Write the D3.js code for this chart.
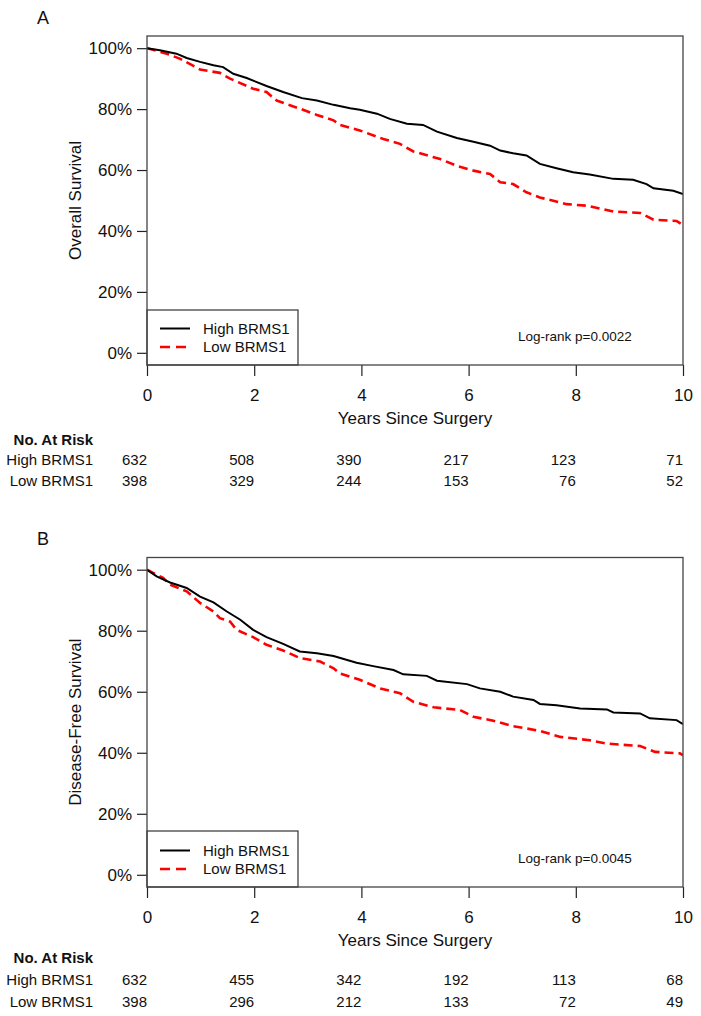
<!DOCTYPE html>
<html>
<head>
<meta charset="utf-8">
<script src="https://cdn.jsdelivr.net/npm/d3@7"></script>
<style>
  html, body { margin: 0; padding: 0; background: #fff; }
  svg { display: block; font-family: Arial, "Liberation Sans", sans-serif; }
</style>
</head>
<body>
<svg id="chart" width="701" height="1016"></svg>
<script>
// ---------- Data ----------
const seriesNames = ["High BRMS1", "Low BRMS1"];
const xTicks = [0, 2, 4, 6, 8, 10];
const yTicks = [0, 0.2, 0.4, 0.6, 0.8, 1.0];

// Panel A: Overall survival  [years, survival %]
const osHigh = [[0,100],[0.24,99.3],[0.55,98.2],[0.74,96.8],[0.99,95.5],[1.24,94.4],[1.42,93.8],[1.61,91.6],[1.86,90.2],[2.23,87.6],[2.54,85.6],[2.89,83.6],[3.17,82.8],[3.48,81.4],[3.79,80.3],[3.97,79.8],[4.29,78.5],[4.53,76.8],[4.85,75.2],[5.15,74.8],[5.41,72.6],[5.78,70.5],[6.09,69.3],[6.40,68.0],[6.59,66.4],[6.83,65.5],[7.08,64.8],[7.33,62.0],[7.64,60.6],[7.95,59.3],[8.26,58.5],[8.70,57.1],[9.07,56.8],[9.32,55.4],[9.45,54.0],[9.82,53.2],[10,52.1]];
const osLow = [[0,100],[0.37,98.2],[0.62,96.5],[0.99,93.0],[1.36,91.9],[1.55,90.0],[1.98,86.7],[2.23,85.6],[2.42,82.8],[2.86,80.1],[3.17,78.1],[3.48,76.3],[3.60,74.8],[3.97,73.0],[4.41,70.2],[4.72,68.6],[4.97,66.1],[5.47,63.6],[5.78,61.4],[6.09,59.8],[6.40,58.7],[6.59,56.0],[6.83,55.4],[7.08,52.7],[7.33,51.0],[7.83,48.8],[8.20,48.3],[8.70,46.4],[9.20,45.9],[9.45,43.7],[9.88,43.3],[10,41.9]];
const osRiskHigh = [632, 508, 390, 217, 123, 71];
const osRiskLow = [398, 329, 244, 153, 76, 52];

// Panel B: Disease-free survival  [years, survival %]
const dfsHigh = [[0,100],[0.18,97.8],[0.43,95.8],[0.74,94.0],[0.99,91.2],[1.24,89.3],[1.49,86.3],[1.74,83.6],[1.98,80.3],[2.23,77.9],[2.54,75.7],[2.85,73.2],[3.17,72.6],[3.48,71.7],[3.91,69.5],[4.22,68.4],[4.60,67.1],[4.78,65.7],[5.22,65.2],[5.41,63.6],[5.97,62.5],[6.21,61.1],[6.59,60.0],[6.83,58.4],[7.21,57.3],[7.33,56.0],[7.64,55.6],[8.08,54.5],[8.58,54.2],[8.70,53.2],[9.20,52.9],[9.38,51.3],[9.88,50.7],[10,49.4]];
const dfsLow = [[0,100],[0.30,97.3],[0.43,95.1],[0.74,92.9],[0.99,89.1],[1.24,86.3],[1.36,84.1],[1.55,83.0],[1.67,80.3],[1.98,77.9],[2.23,75.4],[2.54,73.5],[2.86,71.0],[3.23,69.9],[3.48,67.7],[3.60,66.0],[3.97,63.9],[4.35,61.1],[4.72,59.5],[4.97,56.7],[5.35,54.9],[5.84,54.0],[6.09,51.8],[6.46,50.5],[6.83,48.7],[7.33,47.2],[7.71,45.2],[8.26,44.1],[8.58,43.0],[9.20,42.2],[9.48,40.3],[9.94,39.8],[10,39.2]];
const dfsRiskHigh = [632, 455, 342, 192, 113, 68];
const dfsRiskLow = [398, 296, 212, 133, 72, 49];

const pValueA = "Log-rank p=0.0022";
const pValueB = "Log-rank p=0.0045";

// ---------- Drawing ----------
const svg = d3.select("#chart");
const left = 147, right = 683;

function drawPanel(o) {
  const g = svg.append("g");
  const x = d3.scaleLinear().domain([0, 10]).range([left, right]);
  const y = d3.scaleLinear().domain([-0.04, 1.04]).range([o.bottom, o.top]);

  g.append("text").attr("x", 37).attr("y", o.letterY).attr("dy", "0.35em")
    .attr("font-size", 18).attr("fill", "#111").text(o.letter);

  const ya = g.append("g").attr("transform", `translate(${left},0)`)
    .call(d3.axisLeft(y).tickValues(yTicks).tickSize(10).tickPadding(5).tickFormat(d3.format(".0%")));
  ya.select(".domain").remove();
  ya.selectAll(".tick line").attr("stroke", "#222").attr("stroke-width", 1.2);
  ya.selectAll(".tick text").attr("font-size", 17).attr("fill", "#111")
    .attr("font-family", "Arial, 'Liberation Sans', sans-serif");

  const xa = g.append("g").attr("transform", `translate(0,${o.bottom})`)
    .call(d3.axisBottom(x).tickValues(xTicks).tickSize(11).tickPadding(13).tickFormat(d3.format("d")));
  xa.select(".domain").remove();
  xa.selectAll(".tick line").attr("stroke", "#222").attr("stroke-width", 1.2);
  xa.selectAll(".tick text").attr("font-size", 17).attr("fill", "#111")
    .attr("font-family", "Arial, 'Liberation Sans', sans-serif");

  g.append("text").attr("transform", `translate(75,${(o.top + o.bottom) / 2}) rotate(-90)`)
    .attr("text-anchor", "middle").attr("dy", "0.35em").attr("font-size", 17).attr("fill", "#111")
    .text(o.yTitle);
  g.append("text").attr("x", (left + right) / 2).attr("y", o.bottom + 53).attr("dy", "0.35em")
    .attr("text-anchor", "middle").attr("font-size", 17).attr("fill", "#111")
    .text("Years Since Surgery");

  const clipId = "clip" + o.letter;
  svg.append("clipPath").attr("id", clipId).append("rect")
    .attr("x", left).attr("y", o.top).attr("width", right - left).attr("height", o.bottom - o.top);

  const line = d3.line().x(d => x(d[0])).y(d => y(d[1] / 100)).curve(d3.curveLinear);
  const curves = g.append("g").attr("clip-path", `url(#${clipId})`);
  curves.append("path").datum(o.low).attr("d", line).attr("fill", "none")
    .attr("stroke", "#ff0000").attr("stroke-width", 2.6).attr("stroke-dasharray", "9,5");
  curves.append("path").datum(o.high).attr("d", line).attr("fill", "none")
    .attr("stroke", "#000").attr("stroke-width", 2);

  const lgTop = o.bottom - o.legendH;
  g.append("rect").attr("x", left).attr("y", lgTop).attr("width", 298 - left).attr("height", o.legendH)
    .attr("fill", "#fff").attr("stroke", "#333").attr("stroke-width", 1.2);
  const rows = [o.bottom - 36.5, o.bottom - 18];
  g.append("line").attr("x1", 160).attr("x2", 190).attr("y1", rows[0]).attr("y2", rows[0])
    .attr("stroke", "#000").attr("stroke-width", 2);
  g.append("line").attr("x1", 160).attr("x2", 190).attr("y1", rows[1]).attr("y2", rows[1])
    .attr("stroke", "#ff0000").attr("stroke-width", 2.6).attr("stroke-dasharray", "10,6");
  seriesNames.forEach((s, i) => {
    g.append("text").attr("x", 203).attr("y", rows[i]).attr("dy", "0.35em")
      .attr("font-size", 15).attr("fill", "#111").text(s);
  });

  g.append("text").attr("x", 518).attr("y", o.bottom - 28.5).attr("dy", "0.35em")
    .attr("font-size", 13.5).attr("fill", "#111").text(o.pText);

  g.append("rect").attr("x", left).attr("y", o.top).attr("width", right - left).attr("height", o.bottom - o.top)
    .attr("fill", "none").attr("stroke", "#444").attr("stroke-width", 1.3);

  g.append("text").attr("x", 93).attr("y", o.riskY[0]).attr("dy", "0.35em").attr("text-anchor", "end")
    .attr("font-size", 15).attr("font-weight", "bold").attr("fill", "#111").text("No. At Risk");
  [o.riskHigh, o.riskLow].forEach((arr, i) => {
    g.append("text").attr("x", 93).attr("y", o.riskY[i + 1]).attr("dy", "0.35em").attr("text-anchor", "end")
      .attr("font-size", 15).attr("fill", "#111").text(seriesNames[i]);
    g.selectAll(null).data(arr).enter().append("text")
      .attr("x", (d, j) => x(xTicks[j])).attr("y", o.riskY[i + 1]).attr("dy", "0.35em")
      .attr("text-anchor", "end").attr("font-size", 15).attr("fill", "#111").text(d => d);
  });
}

drawPanel({ letter: "A", letterY: 18, top: 36, bottom: 365, legendH: 55, yTitle: "Overall Survival",
  high: osHigh, low: osLow, riskHigh: osRiskHigh, riskLow: osRiskLow, pText: pValueA, riskY: [440, 460, 481] });
drawPanel({ letter: "B", letterY: 539, top: 557.5, bottom: 887, legendH: 56, yTitle: "Disease-Free Survival",
  high: dfsHigh, low: dfsLow, riskHigh: dfsRiskHigh, riskLow: dfsRiskLow, pText: pValueB, riskY: [958, 980, 1002] });
</script>
</body>
</html>
